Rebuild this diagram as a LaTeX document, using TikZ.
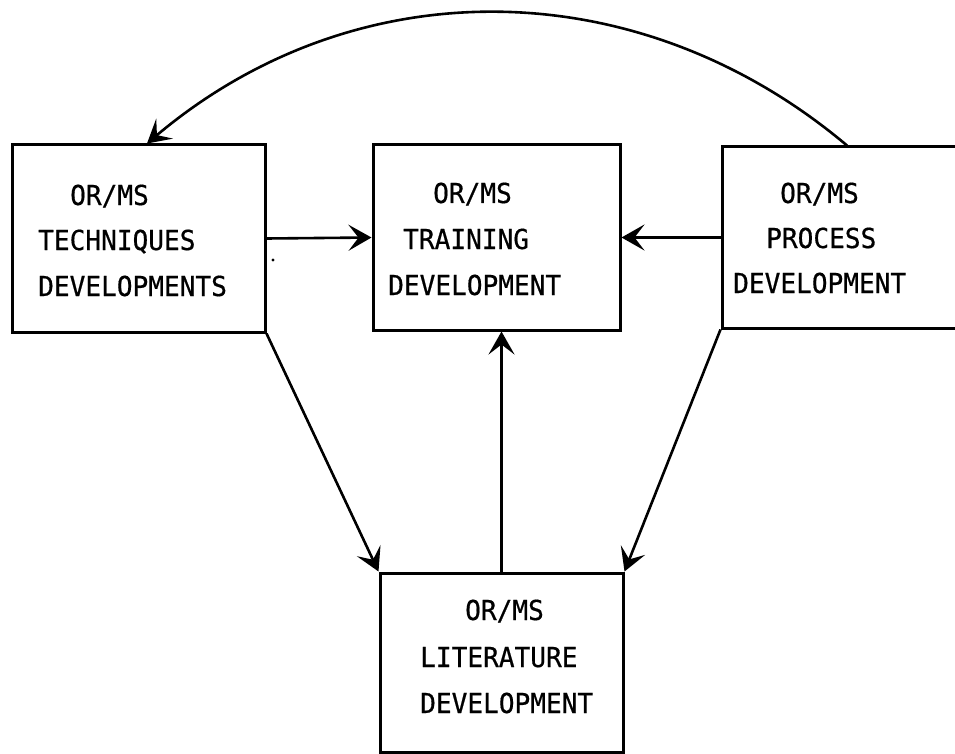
\documentclass[tikz,border=0pt]{standalone}
\usepackage{fontspec}
\newfontfamily\typew[FakeStretch=0.95,FakeBold=0.6]{DejaVu Sans Mono}
\usetikzlibrary{arrows.meta}
\begin{document}
\begin{tikzpicture}[x=1pt,y=-1pt,
  box/.style={draw, line width=3pt, rectangle, inner sep=0pt},
  txt/.style={anchor=base west, inner sep=0pt, font=\typew\fontsize{27.5}{32}\selectfont},
  conn/.style={line width=2.6pt, -{Stealth[length=23pt,width=26pt,inset=10pt]}}]
\clip (0,0) rectangle (955,754);
\fill[white] (0,0) rectangle (955,754);
% boxes
\node[box, minimum width=253pt, minimum height=187pt] (tech) at (138.5,238.5) {};
\node[box, minimum width=247pt, minimum height=185pt] (train) at (496.5,237.5) {};
\node[box, minimum width=243pt, minimum height=181pt] (proc) at (843.5,237.5) {};
\node[box, minimum width=243pt, minimum height=179pt] (lit) at (501.5,662.5) {};
% texts
\node[txt] (t1) at (70,205) {OR/MS};
\node[txt] (t2) at (38,250) {TECHNIQUES};
\node[txt] (t3) at (38,296) {DEVELOPMENTS};
\node[txt] (r1) at (433,203) {OR/MS};
\node[txt] (r2) at (403,249) {TRAINING};
\node[txt] (r3) at (388,295) {DEVELOPMENT};
\node[txt] (p1) at (780,203) {OR/MS};
\node[txt] (p2) at (766,248) {PROCESS};
\node[txt] (p3) at (733,293) {DEVELOPMENT};
\node[txt] (l1) at (465,620) {OR/MS};
\node[txt] (l2) at (420,667) {LITERATURE};
\node[txt] (l3) at (420,713) {DEVELOPMENT};
% connectors
\draw[conn] (tech.east) -- (train.west);
\draw[conn] (proc.west) -- (train.east);
\draw[conn] (lit.north) -- (lit.north |- train.south);
\draw[conn] (tech.south east) -- (lit.north west);
\draw[conn] (proc.south west) -- (lit.north east);
\draw[conn] ([xshift=3.5pt]proc.north) .. controls (640,-29) and (357,-33.5) .. ([xshift=8.5pt]tech.north);
% speck
\fill (273,260) circle (1.6pt);
\end{tikzpicture}
\end{document}
